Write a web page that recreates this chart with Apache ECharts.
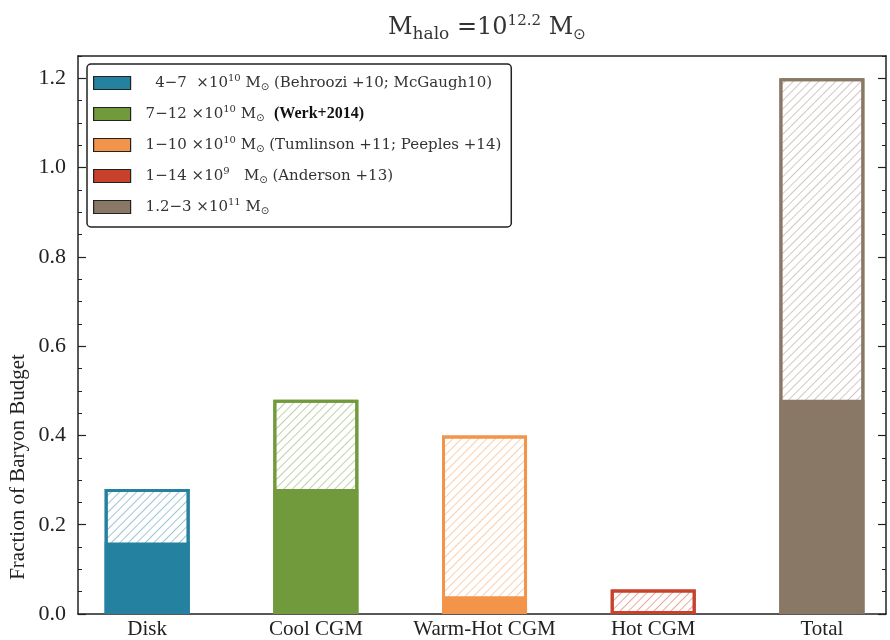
<!DOCTYPE html>
<html>
<head>
<meta charset="utf-8">
<script src="https://cdn.jsdelivr.net/npm/echarts@6/dist/echarts.min.js"></script>
<style>html,body{margin:0;padding:0;background:#fff}#c{width:890px;height:640px}</style>
</head>
<body>
<div id="c"></div>
<script>
var categories = ['Disk', 'Cool CGM', 'Warm-Hot CGM', 'Hot CGM', 'Total'];
var solidValues = [0.16, 0.28, 0.04, 0.0, 0.48];
var totalValues = [0.28, 0.48, 0.40, 0.055, 1.2];
var yTickValues = [0, 0.2, 0.4, 0.6, 0.8, 1.0, 1.2];
var legendLabels = [
  '  4\u22127  \u00d710{sup|10} M{sun|\u2299} (Behroozi +10; McGaugh10)',
  '7\u221212 \u00d710{sup|10} M{sun|\u2299}  {b|(Werk+2014)}',
  '1\u221210 \u00d710{sup|10} M{sun|\u2299} (Tumlinson +11; Peeples +14)',
  '1\u221214 \u00d710{sup|9}   M{sun|\u2299} (Anderson +13)',
  '1.2\u22123 \u00d710{sup|11} M{sun|\u2299}'
];
var titleText = 'M{sub|halo} =10{sup|12.2} M{sun|\u2299}';
var yAxisName = 'Fraction of Baryon Budget';

var colors = ['#2581a0', '#719a3d', '#f2954a', '#c8412b', '#8a7866'];
var hatchColors = ['rgba(37,129,160,0.45)', 'rgba(113,154,61,0.45)', 'rgba(242,149,74,0.45)', 'rgba(200,65,43,0.45)', 'rgba(138,120,102,0.4)'];
var FONT = 'Liberation Serif';
var MFONT = 'DejaVu Serif';

var series = [];
categories.forEach(function (c, i) {
  series.push({
    type: 'bar', name: 'h' + i, xAxisIndex: 0, yAxisIndex: 0,
    data: [[i, totalValues[i]]], barWidth: 85, barGap: '-100%', silent: true,
    itemStyle: {
      color: '#ffffff', borderColor: colors[i], borderWidth: 3,
      decal: { symbol: 'rect', symbolSize: 1, dashArrayX: [1, 0], dashArrayY: [1, 5], rotation: -Math.PI / 4, color: hatchColors[i] }
    }
  });
});
categories.forEach(function (c, i) {
  series.push({
    type: 'bar', name: 's' + i, xAxisIndex: 0, yAxisIndex: 0,
    data: [[i, solidValues[i]]], barWidth: 85, barGap: '-100%', silent: true,
    itemStyle: { color: colors[i], borderColor: colors[i], borderWidth: solidValues[i] > 0 ? 3 : 0 }
  });
});

var richStyles = {
  sup: { fontFamily: MFONT, fontSize: 10, color: '#333', padding: [0, 0, 9, 0] },
  sun: { fontFamily: 'DejaVu Sans', fontSize: 10, color: '#333', padding: [9, 0, 0, 0] },
  b: { fontFamily: FONT, fontSize: 16, fontWeight: 'bold', color: '#111' }
};

var axisLineStyle = { color: '#222', width: 1.5 };
var chart = echarts.init(document.getElementById('c'), null, { renderer: 'canvas' });
chart.setOption({
  animation: false,
  backgroundColor: '#fff',
  title: {
    text: titleText, left: 383, top: 8,
    textStyle: {
      fontFamily: MFONT, fontSize: 24, fontWeight: 'normal', color: '#333',
      rich: {
        sup: { fontFamily: MFONT, fontSize: 15, color: '#333', padding: [0, 0, 13, 0] },
        sub: { fontFamily: MFONT, fontSize: 17, color: '#333', padding: [13, 0, 0, 0] },
        sun: { fontFamily: 'DejaVu Sans', fontSize: 15, color: '#333', padding: [14, 0, 0, 0] }
      }
    }
  },
  legend: {
    data: ['s0', 's1', 's2', 's3', 's4'],
    orient: 'vertical', left: 87, top: 64,
    itemWidth: 37, itemHeight: 13, itemGap: 9, icon: 'rect',
    padding: [8, 10, 9, 6],
    backgroundColor: '#fff', borderColor: '#222', borderWidth: 1.5, borderRadius: 4,
    selectedMode: false,
    itemStyle: { borderColor: '#222', borderWidth: 1.2 },
    formatter: function (name) { return legendLabels[+name.slice(1)]; },
    textStyle: { fontFamily: MFONT, fontSize: 15, color: '#333', lineHeight: 22, padding: [0, 0, 0, 10], rich: richStyles }
  },
  grid: { left: 78, right: 4, top: 56, bottom: 25, containLabel: false },
  xAxis: [
    {
      type: 'value', min: -0.41, max: 4.38, position: 'bottom',
      axisLine: { show: true, onZero: false, lineStyle: axisLineStyle }, axisTick: { show: false }, splitLine: { show: false },
      axisLabel: {
        customValues: [0, 1, 2, 3, 4], margin: 5,
        formatter: function (v) { return categories[Math.round(v)]; },
        fontFamily: FONT, fontSize: 21, color: '#222'
      }
    },
    {
      type: 'value', min: -0.41, max: 4.38, position: 'top',
      axisLine: { show: true, onZero: false, lineStyle: axisLineStyle }, axisTick: { show: false },
      axisLabel: { show: false }, splitLine: { show: false }
    }
  ],
  yAxis: [
    {
      type: 'value', min: 0, max: 1.25, interval: 0.05, position: 'left',
      axisLine: { show: true, onZero: false, lineStyle: axisLineStyle },
      axisTick: { show: true, inside: true, length: 4, lineStyle: { color: '#222', width: 1 } },
      splitLine: { show: false },
      axisLabel: {
        customValues: yTickValues, margin: 12,
        formatter: function (v) { return v.toFixed(1); },
        fontFamily: FONT, fontSize: 22, color: '#222'
      }
    },
    {
      type: 'value', min: 0, max: 1.25, position: 'left',
      axisLine: { show: false, onZero: false },
      axisTick: { show: true, inside: true, length: 8, customValues: yTickValues, lineStyle: { color: '#222', width: 1.2 } },
      axisLabel: { show: false }, splitLine: { show: false }
    },
    {
      type: 'value', min: 0, max: 1.25, interval: 0.05, position: 'right',
      axisLine: { show: true, onZero: false, lineStyle: axisLineStyle },
      axisTick: { show: true, inside: true, length: 4, lineStyle: { color: '#222', width: 1 } },
      axisLabel: { show: false }, splitLine: { show: false }
    },
    {
      type: 'value', min: 0, max: 1.25, position: 'right',
      axisLine: { show: false, onZero: false },
      axisTick: { show: true, inside: true, length: 8, customValues: yTickValues, lineStyle: { color: '#222', width: 1.2 } },
      axisLabel: { show: false }, splitLine: { show: false }
    }
  ],
  graphic: [{
    type: 'text', x: 18, y: 467, rotation: Math.PI / 2,
    style: { text: yAxisName, fontFamily: FONT, fontSize: 21, fill: '#222', textAlign: 'center', textVerticalAlign: 'middle' }
  }],
  series: series
});
</script>
</body>
</html>
